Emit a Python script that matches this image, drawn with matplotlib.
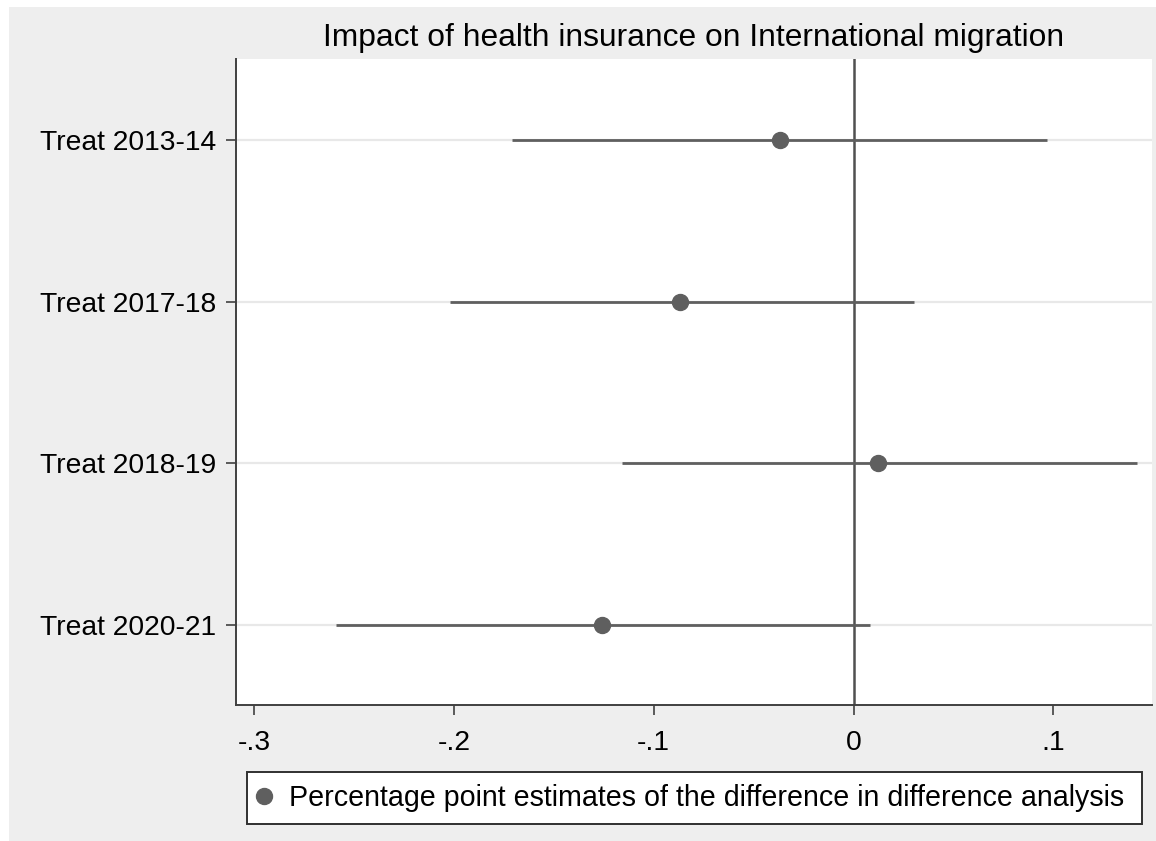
import matplotlib
matplotlib.use("Agg")
import matplotlib.pyplot as plt
from matplotlib.patches import Rectangle
from matplotlib.lines import Line2D

plt.rcParams['font.family'] = ['Liberation Sans', 'DejaVu Sans']

# Difference-in-difference estimates with 95% confidence bounds
labels = ["Treat 2013-14", "Treat 2017-18", "Treat 2018-19", "Treat 2020-21"]
estimates = [-0.037, -0.087, 0.012, -0.126]
ci_low = [-0.171, -0.202, -0.116, -0.259]
ci_high = [0.097, 0.030, 0.142, 0.008]
xticks = [-0.3, -0.2, -0.1, 0.0, 0.1]
xtick_labels = ["-.3", "-.2", "-.1", "0", ".1"]
legend_label = "Percentage point estimates of the difference in difference analysis"

W, H = 1156, 841
fig = plt.figure(figsize=(W / 100, H / 100), dpi=100, facecolor="white")

# light grey graph region
fig.patches.append(Rectangle((9 / W, 0), 1 - 9 / W, (H - 7) / H,
                             transform=fig.transFigure, facecolor="#eeeeee",
                             edgecolor="none", zorder=-10))

ax = fig.add_axes([236 / W, (H - 705) / H, (1152 - 236) / W, (705 - 59) / H])
ax.set_zorder(1)
ax.set_facecolor("white")

ypos = list(range(1, len(labels) + 1))
for y in ypos:
    ax.axhline(y, color="#e8e8e8", lw=1.6, zorder=1)
ax.axvline(0, color="#505050", lw=1.8, zorder=2)

dark = "#5f5f5f"
for y, lo, hi in zip(ypos, ci_low, ci_high):
    ax.plot([lo, hi], [y, y], color=dark, lw=2.0, solid_capstyle="butt", zorder=3)
ax.plot(estimates, ypos, "o", color=dark, markersize=11.5, zorder=4)

ax.set_xlim(-0.309, 0.1493)
ax.set_ylim(4.494, 0.5)
ax.set_yticks(ypos)
ax.set_yticklabels(labels)
ax.set_xticks(xticks)
ax.set_xticklabels(xtick_labels)

for side in ("top", "right"):
    ax.spines[side].set_visible(False)
for side in ("left", "bottom"):
    ax.spines[side].set_color("#404040")
    ax.spines[side].set_linewidth(1.4)

ax.tick_params(axis="both", length=7.5, width=1.2, color="#404040",
               labelsize=20.3, labelcolor="black")
ax.tick_params(axis="x", pad=10.5)
ax.tick_params(axis="y", pad=7)

fig.text((236 + 1152) / 2 / W, (H - 38) / H,
         "Impact of health insurance on International migration",
         ha="center", va="center", fontsize=22.9, color="black")

# legend box with a single key
fig.patches.append(Rectangle((247 / W, (H - 824) / H), (1142 - 247) / W, (824 - 772) / H,
                             transform=fig.transFigure, facecolor="white",
                             edgecolor="#303030", linewidth=1.4, zorder=2))
handle = Line2D([], [], marker="o", color=dark, linestyle="none", markersize=11.5)
leg = fig.legend([handle], [legend_label],
                 loc="center left", bbox_to_anchor=(250 / W, (H - 798) / H),
                 fontsize=20.6, frameon=False, handletextpad=0.38,
                 borderpad=0, handlelength=1.0, borderaxespad=0)
leg.set_zorder(3)

fig.savefig("out.png", dpi=100, facecolor="white")
